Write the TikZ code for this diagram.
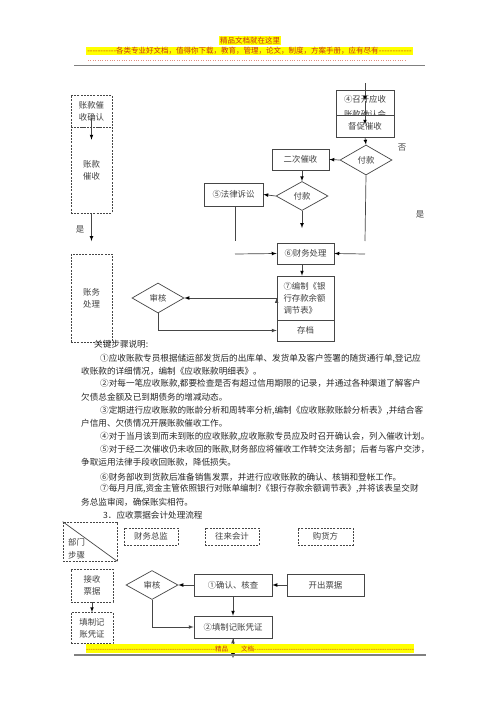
\documentclass[tikz,border=0pt]{standalone}
\usepackage{fontspec}
\setmainfont{Noto Sans CJK SC}
\usetikzlibrary{shapes.geometric}

\definecolor{hdrred}{RGB}{200,50,20}
\definecolor{hdryellow}{RGB}{255,255,0}
\definecolor{linegray}{RGB}{70,70,70}
\definecolor{textgray}{RGB}{65,65,65}
\definecolor{paratext}{RGB}{40,40,40}

\newcommand{\dashfill}[1]{\hbox to #1{\xleaders\hbox{-}\hfill}}
\newcommand{\boxfont}{\fontsize{8.4}{12}\selectfont}
\newcommand{\parafont}{\fontsize{8.6}{12}\selectfont}

\tikzset{
    box/.style={draw=linegray, line width=0.7pt, minimum width=57pt, minimum height=21pt,
        inner sep=1pt, text=textgray, font=\boxfont, fill=white},
    lane/.style={draw=linegray, line width=0.7pt, dash pattern=on 2pt off 1.2pt,
        minimum width=41pt, inner sep=1pt, text=textgray, font=\boxfont, align=center},
    decision/.style={diamond, draw=linegray, line width=0.7pt, minimum width=52pt,
        minimum height=30pt, inner sep=0pt, text=textgray, font=\boxfont},
    wire/.style={draw=linegray, line width=0.7pt},
    hdr/.style={fill=hdryellow, inner sep=0.8pt, text=hdrred, font=\fontsize{7.5}{9}\selectfont},
    para/.style={anchor=west, inner sep=0pt, text=paratext, font=\parafont},
}

\begin{document}
\begin{tikzpicture}[x=1pt,y=-1pt]
    \fill [white] (0,0) rectangle (500,707);
    \useasboundingbox (0,0) rectangle (500,707);

    % page header
    \node (hdrtitle) [hdr] at (250,40.5) {精品文档就在这里};
    \node (hdrline) [hdr] at (249.5,51) {\dashfill{29pt}各类专业好文档，值得你下载，教育，管理，论文，制度，方案手册，应有尽有\dashfill{33pt}};
    \draw [hdrred!55, dotted] (88,60) -- (405,60);
    \draw [gray, line width=1.2pt] (74,65.5) -- (425,65.5);

    % lanes on the left
    \node (confirm) [lane, minimum height=32pt] at (91.5,111) {账款催\\收确认};
    \node (collect) [lane, minimum height=86pt] at (91.5,170) {账款\\催收};
    \node (account) [lane, minimum height=88pt] at (91.5,298) {账务\\处理};
    \node (laneend) [coordinate] at (91.5,241) {};
    \node at (80,229) [text=textgray, font=\boxfont] {是};

    % collection flow
    \node (entry) [coordinate] at (365,83) {};
    \node (meeting) [box, minimum width=58pt, minimum height=26pt] at (365,103) {};
    \node at (365,107) [text=textgray, font=\boxfont, align=center] {④召开应收\\[3pt]账款确认会};
    \node (urge) [box, minimum width=58pt, minimum height=22pt] at (365,126) {督促催收};
    \node (pay) [decision] at (366,160) {付款};
    \node (second) [box] at (300.5,159.5) {二次催收};
    \node (paysecond) [decision, minimum height=29pt] at (302,196) {付款};
    \node (lawsuit) [box, minimum width=59pt, minimum height=23pt] at (233.5,194.5) {⑤法律诉讼};
    \node (finance) [box] at (305.5,253.5) {⑥财务处理};
    \node (table) [box, minimum height=44pt, text width=44pt, align=left] at (305.5,298) {⑦编制《银\\行存款余额\\调节表》};
    \node (archive) [box] at (305.5,330.5) {存档};
    \node (audit) [decision] at (158,298) {审核};

    \node (lawend) [coordinate] at (235,241) {};
    \node (lawin) [coordinate] at (235,254) {};
    \node (payend) [coordinate] at (365,241) {};
    \node (payin) [coordinate] at (365,254) {};
    \node (secondend) [coordinate] at (302,228) {};

    \node at (402,148) [text=textgray, font=\boxfont] {否};
    \node at (420,214) [text=textgray, font=\boxfont] {是};

    \path [->,>=latex,wire]
        ([yshift=9pt]confirm.south) edge ([yshift=-13pt]collect.north)
        (collect.south) edge (laneend)
        (entry) edge ([yshift=-11pt]meeting.north)
        ([yshift=-11pt]meeting.north) edge ([yshift=-10pt]urge.north)
        (urge.south) edge (pay.north)
        (pay.west) edge (second.east)
        (second.south -| paysecond.north) edge (paysecond.north)
        (paysecond.west) edge (lawsuit.east)
        (paysecond.south) edge (secondend)
        (lawin) edge (finance.west)
        (payin) edge (finance.east)
        (finance.south -| secondend) edge (table.north -| secondend)
        (table.west) edge (audit.east)
    ;
    \draw [wire] (lawsuit.south -| lawend) -- (lawend);
    \draw [wire] (pay.south) -- (payend);
    \draw [->,>=latex,wire] (audit.south) |- (archive.west);

    % key steps
    \node (notes) [para] at (94,344) {关键步骤说明:};
    \node [para] at (100,359) {①应收账款专员根据储运部发货后的出库单、发货单及客户签署的随货通行单,登记应};
    \node [para] at (81,371) {收账款的详细情况，编制《应收账款明细表》。};
    \node [para] at (100,384) {②对每一笔应收账款,都要检查是否有超过信用期限的记录，并通过各种渠道了解客户};
    \node [para] at (81,397) {欠债总金额及已到期债务的增减动态。};
    \node [para] at (100,411) {③定期进行应收账款的账龄分析和周转率分析,编制《应收账款账龄分析表》,并结合客};
    \node [para] at (81,423) {户信用、欠债情况开展账款催收工作。};
    \node [para] at (100,437) {④对于当月该到而未到账的应收账款,应收账款专员应及时召开确认会，列入催收计划。};
    \node [para] at (100,450) {⑤对于经二次催收仍未收回的账款,财务部应将催收工作转交法务部；后者与客户交涉，};
    \node [para] at (81,462) {争取运用法律手段收回账款，降低损失。};
    \node [para] at (100,477) {⑥财务部收到货款后准备销售发票，并进行应收账款的确认、核销和登帐工作。};
    \node [para] at (100,489) {⑦每月月底,资金主管依照银行对账单编制?《银行存款余额调节表》,并将该表呈交财};
    \node [para] at (81,502) {务总监审阅，确保账实相符。};
    \node (section) [para] at (103,515) {3．应收票据会计处理流程};

    % notes receivable flow
    \node (corner) [lane, minimum width=54pt, minimum height=39pt] at (90,541.5) {};
    \draw [wire] (corner.north west) -- (corner.south east);
    \node at (76.5,542) [text=textgray, font=\boxfont] {部门};
    \node at (76.5,555) [text=textgray, font=\boxfont] {步骤};
    \node (director) [lane, minimum width=54pt, minimum height=17pt] at (151,536.5) {财务总监};
    \node (clerk) [lane, minimum width=54pt, minimum height=17pt] at (232,536.5) {往来会计};
    \node (buyer) [lane, minimum width=55pt, minimum height=17pt] at (325.5,536.5) {购货方};
    \node (receive) [lane, minimum width=42pt, minimum height=33pt] at (92,585.5) {接收\\票据};
    \node (voucher) [lane, minimum width=42pt, minimum height=31pt] at (92,628) {填制记\\账凭证};

    \node (review) [decision, minimum height=29pt] at (152,585) {审核};
    \node (check) [box, minimum width=78pt, minimum height=22pt] at (233,585) {①确认、核查};
    \node (issue) [box, minimum width=77pt, minimum height=22pt] at (325.5,585) {开出票据};
    \node (record) [box, minimum width=78pt, minimum height=22pt] at (233,627) {②填制记账凭证};
    \node (recordend) [coordinate] at (233,658) {};

    \path [->,>=latex,wire]
        (receive.south) edge (voucher.north)
        (issue.west) edge (check.east)
        (check.west) edge (review.east)
        (check.south) edge (record.north)
        (record.south) edge (recordend)
    ;
    \draw [->,>=latex,wire] (review.south) |- (record.west);

    % page footer
    \node (footer) [hdr, anchor=west, inner sep=0pt, minimum height=9pt, font=\fontsize{6.5}{8}\selectfont] at (86,648.5)
        {\dashfill{129pt}精品\hspace{13pt}文档\dashfill{160pt}};
    \draw [gray, line width=1.1pt] (74,655) -- (426,655);
\end{tikzpicture}
\end{document}
